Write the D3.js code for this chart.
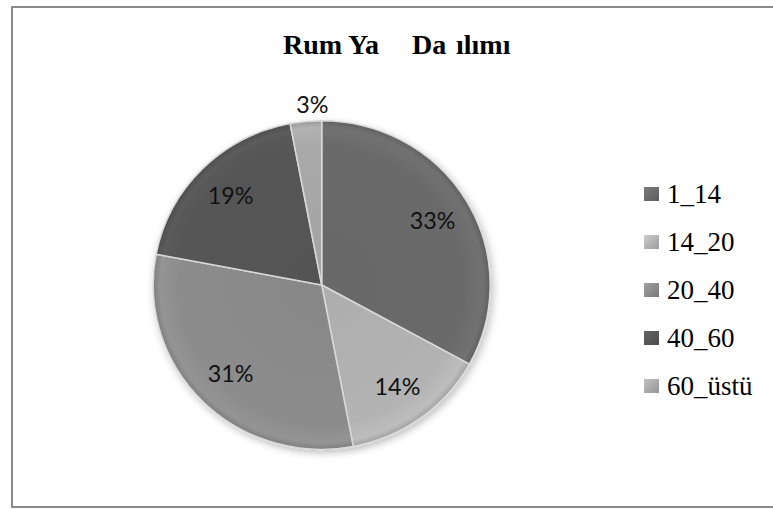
<!DOCTYPE html>
<html><head><meta charset="utf-8">
<script src="https://cdn.jsdelivr.net/npm/d3@7"></script>
<style>html,body{margin:0;padding:0;background:#fff;overflow:hidden}
.serif{font-family:"Liberation Serif","Times New Roman","DejaVu Serif",serif}
.lab{font-family:Lato,"Open Sans",sans-serif}</style>
</head><body>
<script>
const categories = ["1_14", "14_20", "20_40", "40_60", "60_üstü"];
const values = [33, 14, 31, 19, 3];
const labels = ["33%", "14%", "31%", "19%", "3%"];
const colors = ["#6b6b6b", "#b3b3b3", "#8c8c8c", "#565656", "#a9a9a9"];
const titleParts = ["Rum", "Ya", "Da", "ılımı"];

const W = 773, H = 509;
const svg = d3.select("body").append("svg").attr("width", W).attr("height", H);
const defs = svg.append("defs");

// frame
svg.append("rect").attr("x", 12).attr("y", 7).attr("width", W + 10).attr("height", 500)
  .attr("fill", "#fff").attr("stroke", "#8a8a8a").attr("stroke-width", 2);

// title
const tx = [283, 348, 412, 456];
const title = svg.append("text").attr("class", "serif").attr("y", 54)
  .attr("font-weight", "bold").attr("font-size", 28).attr("fill", "#000");
title.selectAll("tspan").data(titleParts).join("tspan").attr("x", (d, i) => tx[i]).text(d => d);

const cx = 321.7, cy = 285, R = 166;
const g = svg.append("g").attr("transform", `translate(${cx},${cy}) scale(1.015,0.99)`);

const f = defs.append("filter").attr("id", "sh").attr("x", "-20%").attr("y", "-20%").attr("width", "140%").attr("height", "140%");
f.append("feDropShadow").attr("dx", 2).attr("dy", 3).attr("stdDeviation", 4).attr("flood-color", "#000").attr("flood-opacity", 0.25);

colors.forEach((c, i) => {
  const rg = defs.append("radialGradient").attr("id", "rg" + i).attr("gradientUnits", "userSpaceOnUse")
    .attr("cx", 0).attr("cy", 0).attr("r", R);
  const base = d3.color(c);
  rg.append("stop").attr("offset", "0%").attr("stop-color", base.darker(0.1));
  rg.append("stop").attr("offset", "85%").attr("stop-color", base);
  rg.append("stop").attr("offset", "96%").attr("stop-color", base.brighter(0.15));
  rg.append("stop").attr("offset", "100%").attr("stop-color", base.darker(0.3));
  const lg = defs.append("linearGradient").attr("id", "lg" + i).attr("x1", 0).attr("y1", 0).attr("x2", 1).attr("y2", 1);
  lg.append("stop").attr("offset", "0%").attr("stop-color", base.brighter(0.4));
  lg.append("stop").attr("offset", "100%").attr("stop-color", base.darker(0.4));
});

const pie = d3.pie().sort(null).value(d => d)(values);
const arc = d3.arc().innerRadius(0).outerRadius(R);
g.append("g").attr("filter", "url(#sh)").selectAll("path").data(pie).join("path")
  .attr("d", arc).attr("fill", (d, i) => `url(#rg${i})`)
  .attr("stroke", "#d8d8d8").attr("stroke-width", 1.5).attr("stroke-linejoin", "round");

const labArc = d3.arc().innerRadius(127).outerRadius(127);
const outArc = d3.arc().innerRadius(183).outerRadius(183);
g.selectAll("text.lab").data(pie).join("text").attr("class", "lab")
  .attr("transform", (d, i) => {
    const p = (values[i] < 5 ? outArc : labArc).centroid(d);
    return `translate(${p[0] + (values[i] < 5 ? 8 : 0)},${p[1]})`;
  })
  .attr("text-anchor", "middle").attr("dy", "0.36em")
  .attr("font-size", 23).attr("fill", "#111")
  .text((d, i) => labels[i]);

// legend
const lgd = svg.append("g");
const rows = lgd.selectAll("g").data(categories).join("g")
  .attr("transform", (d, i) => `translate(644,${194 + i * 48})`);
rows.append("rect").attr("x", 0).attr("y", -7).attr("width", 15).attr("height", 14)
  .attr("fill", (d, i) => `url(#lg${i})`);
rows.append("text").attr("class", "serif").attr("x", 23).attr("y", 9)
  .attr("font-size", 27).attr("fill", "#000").text(d => d);
</script>
</body></html>
